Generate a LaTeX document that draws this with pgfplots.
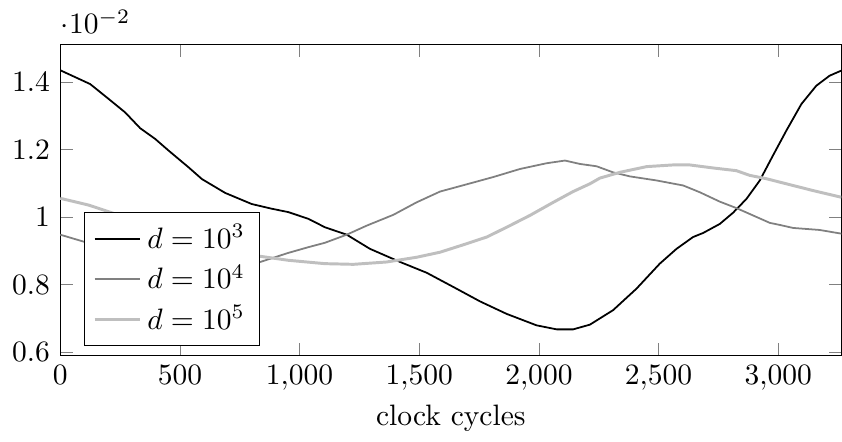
\documentclass[border=0pt]{standalone}
\usepackage{pgfplots}
\pgfplotsset{compat=1.18}

\begin{document}
\begin{tikzpicture}
\begin{axis}[
    scale only axis,
    width=264.5pt, height=105.3pt,
    xmin=0, xmax=3264,
    ymin=0.0059, ymax=0.01513,
    xlabel={clock cycles},
    xlabel style={yshift=2pt},
    legend pos=south west,
    legend cell align=left,
    legend image code/.code={\draw[#1] (0cm,0cm) -- (0.54cm,0cm);},
    every y tick scale label/.style={at={(rel axis cs:0,1)}, anchor=south west, inner xsep=0pt},
]

\addplot[black, semithick] coordinates {
    (0,0.01436)(125,0.01395)(202,0.01351)(271,0.01311)(334,0.01264)(397,0.01232)
    (452,0.01198)(536,0.01148)(592,0.01113)(689,0.01072)(800,0.01039)(884,0.01025)
    (953,0.01015)(1037,0.00995)(1106,0.00970)(1197,0.00948)(1294,0.00906)(1420,0.00867)
    (1531,0.00835)(1642,0.00793)(1754,0.00750)(1865,0.00713)(1990,0.00679)(2074,0.00667)
    (2143,0.00667)(2213,0.00681)(2310,0.00724)(2408,0.00788)(2505,0.00862)(2575,0.00906)
    (2644,0.00941)(2686,0.00953)(2756,0.00980)(2811,0.01013)(2867,0.01054)(2923,0.01109)
    (2978,0.01183)(3034,0.01257)(3097,0.01336)(3159,0.01390)(3215,0.01420)(3264,0.01435)
};

\addplot[gray, semithick] coordinates {
    (0,0.00948)(104,0.00926)(200,0.00905)(300,0.00890)(400,0.00878)(500,0.00868)
    (600,0.00862)(700,0.00858)(814,0.00862)(953,0.00894)(1037,0.00911)(1106,0.00924)
    (1197,0.00948)(1281,0.00975)(1392,0.01007)(1489,0.01044)(1587,0.01076)(1670,0.01092)
    (1809,0.01119)(1921,0.01143)(2032,0.01160)(2109,0.01168)(2171,0.01158)(2241,0.01151)
    (2310,0.01133)(2380,0.01121)(2491,0.01109)(2603,0.01094)(2672,0.01074)(2756,0.01046)
    (2825,0.01027)(2895,0.01005)(2965,0.00983)(3006,0.00977)(3062,0.00968)(3173,0.00962)
    (3264,0.00951)
};

\addplot[lightgray, line width=1pt] coordinates {
    (0,0.01056)(118,0.01036)(271,0.01000)(400,0.00965)(500,0.00940)(600,0.00918)
    (700,0.00900)(814,0.00886)(953,0.00872)(1106,0.00862)(1225,0.00860)(1364,0.00867)
    (1489,0.00881)(1587,0.00896)(1684,0.00918)(1782,0.00941)(1865,0.00970)(1962,0.01005)
    (2060,0.01044)(2143,0.01076)(2213,0.01099)(2255,0.01116)(2338,0.01133)(2450,0.01150)
    (2561,0.01155)(2630,0.01155)(2728,0.01146)(2825,0.01138)(2881,0.01124)(2951,0.01114)
    (3034,0.01099)(3145,0.01079)(3264,0.01059)
};

\legend{$d=10^3$, $d=10^4$, $d=10^5$}
\end{axis}
\path (current axis.north west) ++(-20.4pt,14.2pt);
\end{tikzpicture}
\end{document}
